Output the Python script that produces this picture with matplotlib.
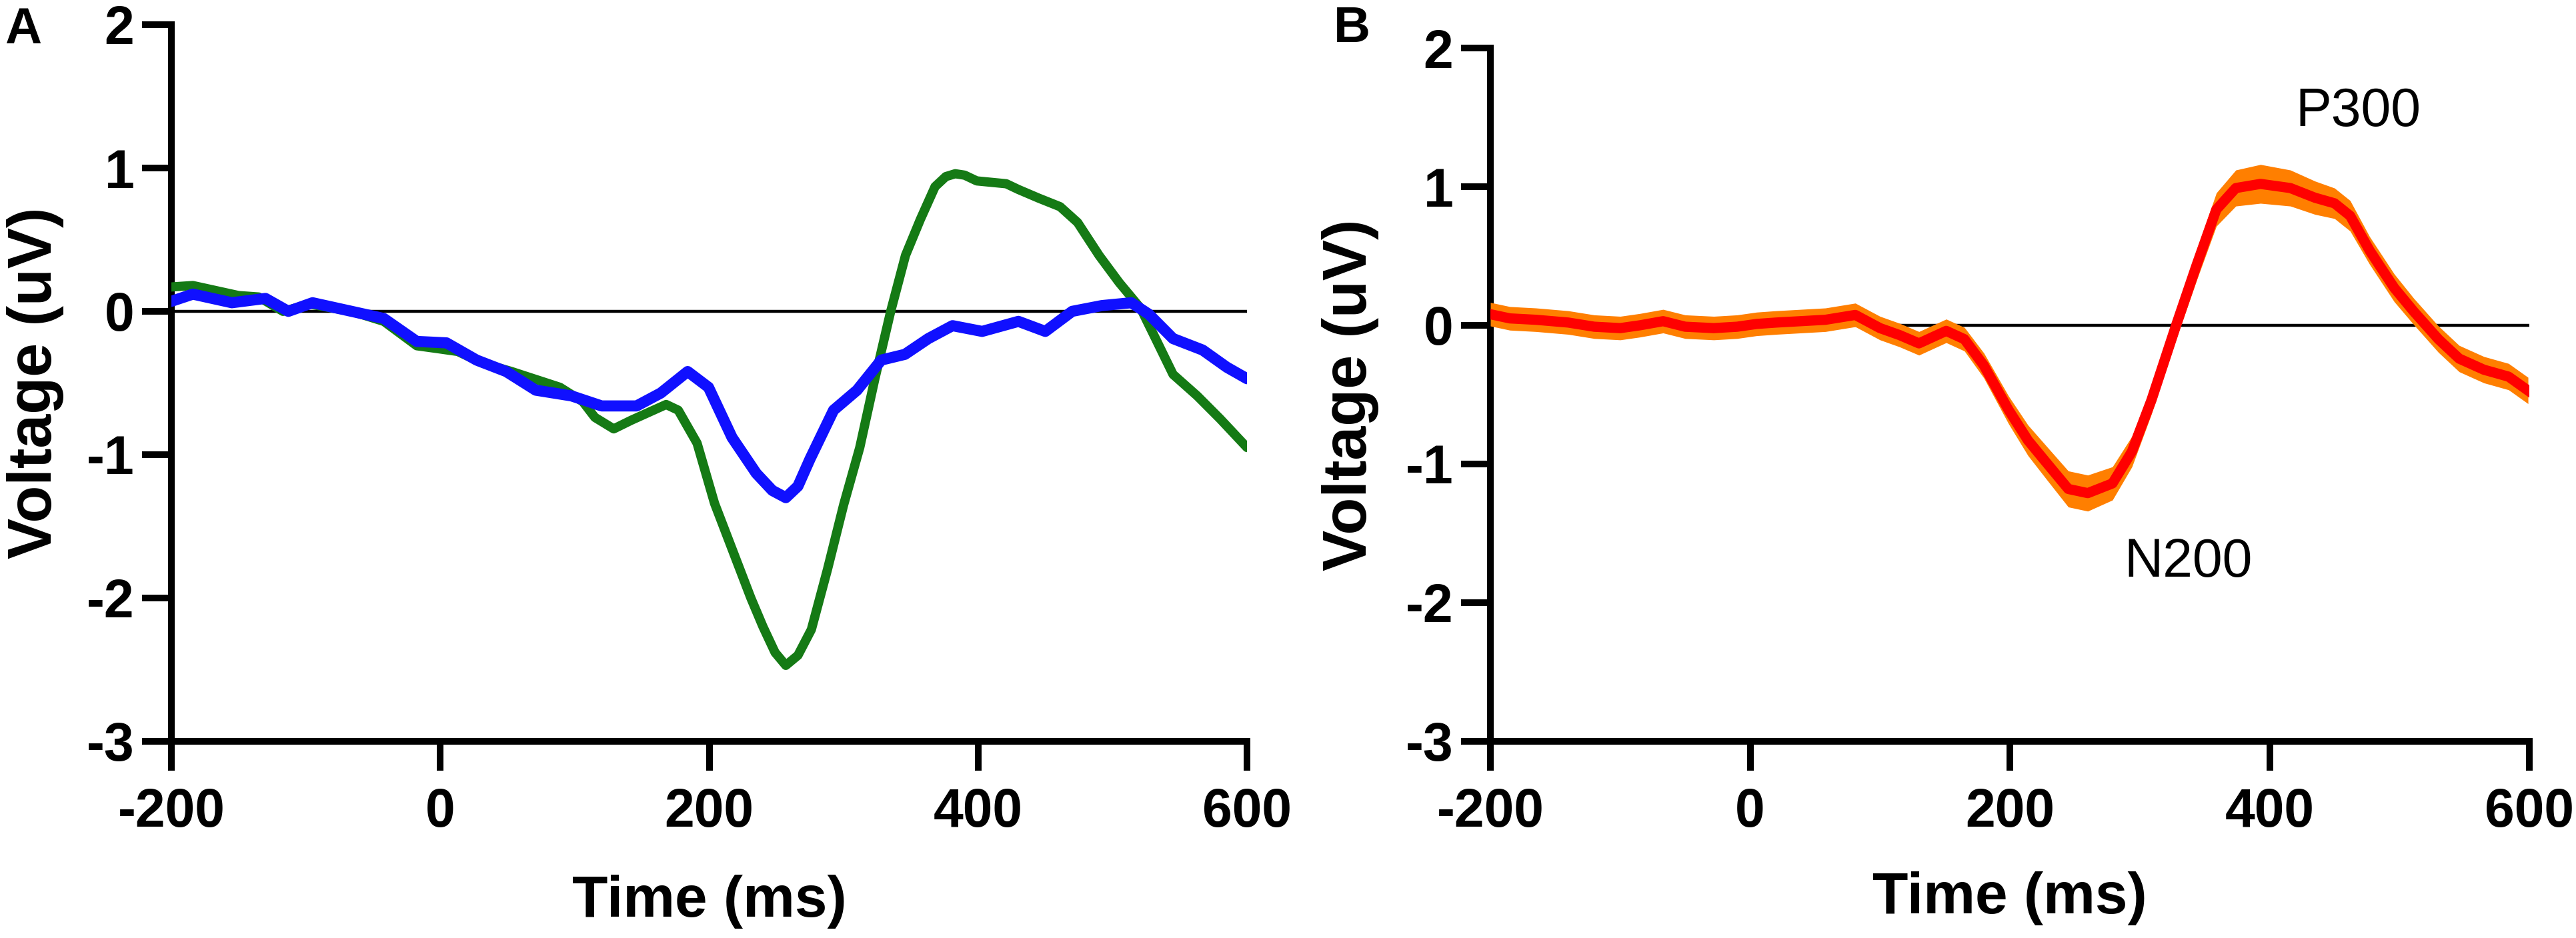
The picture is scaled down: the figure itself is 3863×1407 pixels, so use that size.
import matplotlib
matplotlib.use("Agg")
import matplotlib.pyplot as plt
import numpy as np

plt.rcParams['font.family'] = ['Liberation Sans', 'DejaVu Sans']
plt.rcParams['axes.unicode_minus'] = False

# ---------------- Panel A data ----------------
green_t = [-200, -184, -150, -135, -117, -97, -66, -42, -17.5, -2, 13, 31, 53, 71, 89, 106,
           115, 129, 142, 168, 177, 191, 204, 222, 231, 240, 249, 257, 266, 276, 288, 300,
           312, 323, 335, 346, 357, 368, 376, 383, 390, 399, 410, 421, 430, 445, 461, 474,
           490, 505, 521, 532, 545, 563, 580, 600]
green_v = [0.17, 0.18, 0.11, 0.10, 0.0, 0.05, 0.0, -0.07, -0.24, -0.26, -0.28, -0.36, -0.42,
           -0.475, -0.53, -0.63, -0.74, -0.82, -0.76, -0.65, -0.69, -0.92, -1.34, -1.78,
           -2.0, -2.2, -2.38, -2.47, -2.40, -2.22, -1.8, -1.35, -0.95, -0.48, 0.0, 0.39, 0.64,
           0.87, 0.94, 0.96, 0.95, 0.91, 0.90, 0.89, 0.85, 0.79, 0.73, 0.62, 0.39, 0.20, 0.02,
           -0.19, -0.44, -0.59, -0.75, -0.95]

blue_t = [-200, -184, -155, -130, -113, -95, -66, -42, -17.5, 4.6, 27, 49, 71, 97.6, 120, 146,
          164, 184, 199.5, 217, 235, 247, 257, 266, 275, 292.5, 310, 328, 345.6, 363, 381,
          403, 430, 450, 470, 492, 514, 527, 545, 567, 585, 600]
blue_v = [0.07, 0.12, 0.06, 0.09, 0.0, 0.06, 0.0, -0.05, -0.21, -0.22, -0.34, -0.42, -0.55,
          -0.59, -0.66, -0.66, -0.57, -0.42, -0.53, -0.88, -1.13, -1.25, -1.30, -1.22, -1.03,
          -0.69, -0.55, -0.34, -0.30, -0.19, -0.10, -0.14, -0.07, -0.14, 0.0, 0.04, 0.06,
          -0.02, -0.19, -0.27, -0.39, -0.47]

# ---------------- Panel B data ----------------
red_t = [-200, -185, -165, -140, -120, -100, -85, -67, -50, -28, -10, 5, 20, 39, 58, 81, 100,
         115, 130, 151, 165, 180, 199, 214, 229, 245, 260, 279, 294, 309, 328, 344, 359, 374,
         393, 416, 435, 450, 462, 477, 496, 511, 530, 546, 565, 584, 599]
red_mean = [0.08, 0.05, 0.04, 0.02, -0.01, -0.02, 0.0, 0.03, -0.01, -0.02, -0.01, 0.01, 0.02,
            0.03, 0.04, 0.075, -0.02, -0.07, -0.13, -0.04, -0.10, -0.29, -0.61, -0.83, -1.0,
            -1.18, -1.21, -1.14, -0.91, -0.54, 0.0, 0.44, 0.835, 0.99, 1.02, 0.99, 0.92, 0.88,
            0.79, 0.54, 0.27, 0.10, -0.10, -0.24, -0.32, -0.37, -0.47]
red_sem = [0.085, 0.085, 0.085, 0.085, 0.085, 0.085, 0.085, 0.085, 0.085, 0.085, 0.085, 0.085,
           0.085, 0.085, 0.085, 0.085, 0.085, 0.085, 0.085, 0.085, 0.085, 0.09, 0.10, 0.11,
           0.12, 0.13, 0.13, 0.12, 0.11, 0.10, 0.10, 0.11, 0.12, 0.13, 0.14, 0.13, 0.12, 0.11,
           0.11, 0.10, 0.10, 0.095, 0.095, 0.095, 0.095, 0.095, 0.095]

x_ticks = [-200, 0, 200, 400, 600]
y_ticks = [-3, -2, -1, 0, 1, 2]

W, H = 3863, 1407
fig = plt.figure(figsize=(W / 100, H / 100), dpi=100)

axA = fig.add_axes([257 / W, (H - 1112) / H, 1613 / W, 1075 / H])
axB = fig.add_axes([2235 / W, (H - 1112) / H, 1558 / W, 1040 / H])

for ax in (axA, axB):
    ax.set_xlim(-200, 600)
    ax.set_ylim(-3, 2)
    ax.set_xticks(x_ticks)
    ax.set_yticks(y_ticks)
    for s in ('top', 'right'):
        ax.spines[s].set_visible(False)
    for s in ('left', 'bottom'):
        ax.spines[s].set_linewidth(7.2)
    ax.tick_params(axis='both', width=7.2, length=32, labelsize=58, direction='out')
    ax.tick_params(axis='y', pad=8)
    ax.tick_params(axis='x', pad=18)
    for lab in ax.get_xticklabels() + ax.get_yticklabels():
        lab.set_fontweight('bold')
    ax.axhline(0, color='black', lw=3.2, zorder=1)
    ax.set_xlabel('Time (ms)', fontsize=63, fontweight='bold')
    ax.set_ylabel('Voltage (uV)', fontsize=66, fontweight='bold')

axA.xaxis.set_label_coords(0.5, -0.186)
axB.xaxis.set_label_coords(0.5, -0.1875)
axA.yaxis.set_label_coords(-0.100, 0.5)
axB.yaxis.set_label_coords(-0.107, 0.5)

axA.plot(green_t, green_v, color='#157a15', lw=10, solid_joinstyle='round',
         solid_capstyle='round', zorder=3)
axA.plot(blue_t, blue_v, color='#1010ff', lw=12, solid_joinstyle='round',
         solid_capstyle='round', zorder=4)

rm = np.array(red_mean)
rs = np.array(red_sem)
axB.fill_between(red_t, rm - rs, rm + rs, color='#ff7f00', lw=0, zorder=3)
axB.plot(red_t, rm, color='#ff0000', lw=11, solid_joinstyle='round', zorder=4)

axB.text(468, 1.4375, 'P300', fontsize=58, ha='center', va='baseline')
axB.text(337.6, -1.8125, 'N200', fontsize=58, ha='center', va='baseline')

fig.text(7 / W, 1 - 65 / H, 'A', fontsize=55, fontweight='bold', ha='left', va='baseline')
fig.text(2000 / W, 1 - 63 / H, 'B', fontsize=55, fontweight='bold', ha='left', va='baseline')

fig.savefig('out.png', dpi=100)
